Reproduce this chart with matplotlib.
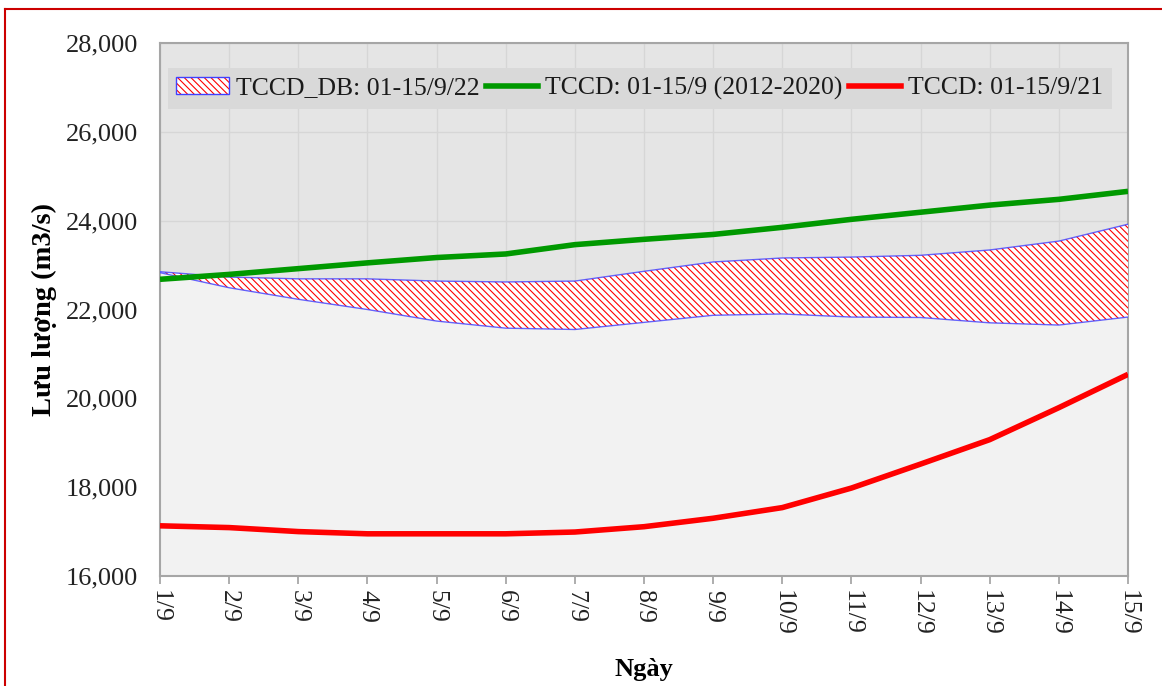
import matplotlib
matplotlib.use('Agg')
import matplotlib.pyplot as plt
from matplotlib.lines import Line2D
from matplotlib.patches import Patch
from matplotlib.ticker import FuncFormatter

plt.rcParams['font.family'] = ['Liberation Serif', 'DejaVu Serif']
plt.rcParams['hatch.color'] = 'red'
plt.rcParams['hatch.linewidth'] = 0.8

days = ['1/9', '2/9', '3/9', '4/9', '5/9', '6/9', '7/9', '8/9',
        '9/9', '10/9', '11/9', '12/9', '13/9', '14/9', '15/9']

# TCCD_DB 01-15/9/22 forecast band (upper / lower bound), m3/s
db_upper = [22850, 22730, 22690, 22690, 22640, 22620, 22640, 22860,
            23070, 23160, 23180, 23220, 23340, 23540, 23920]
db_lower = [22830, 22490, 22230, 22000, 21740, 21580, 21550, 21710,
            21870, 21900, 21830, 21820, 21700, 21650, 21830]
# TCCD average 01-15/9 (2012-2020)
avg_2012_2020 = [22680, 22790, 22920, 23050, 23170, 23250, 23460, 23580,
                 23690, 23850, 24030, 24190, 24350, 24480, 24660]
# TCCD 01-15/9/21
tccd_21 = [17130, 17090, 17000, 16950, 16950, 16950, 16990, 17110,
           17300, 17540, 17980, 18520, 19070, 19790, 20540]

x = list(range(len(days)))
HATCH = '\\' * 5

fig = plt.figure(figsize=(11.62, 6.86), dpi=100)
ax = fig.add_axes([160 / 1162, 1 - 576 / 686, 968 / 1162, 533 / 686])
ax.set_facecolor('#E5E5E5')

# stacked-area look: light fill under the band, hatched band on top
ax.fill_between(x, 16000, db_lower, facecolor='#F2F2F2', edgecolor='none', zorder=2)
ax.fill_between(x, db_lower, db_upper, facecolor='white', edgecolor='red',
                hatch=HATCH, linewidth=0, zorder=3)
ax.plot(x, db_upper, color='#4040FF', linewidth=1.0, alpha=0.8, zorder=4)
ax.plot(x, db_lower, color='#4040FF', linewidth=1.0, alpha=0.8, zorder=4)
ax.plot(x, avg_2012_2020, color='#009900', linewidth=4.0, zorder=5,
        solid_capstyle='butt')
ax.plot(x, tccd_21, color='#FF0000', linewidth=4.0, zorder=5,
        solid_capstyle='butt')

ax.set_xlim(0, len(days) - 1)
ax.set_ylim(16000, 28000)
ax.set_xticks(x)
ax.set_xticklabels(days, rotation=270, fontsize=18.5, color='#222222')
ax.set_yticks(range(16000, 28001, 2000))
ax.yaxis.set_major_formatter(FuncFormatter(lambda v, p: f'{int(v):,}'))
ax.tick_params(axis='y', length=0, pad=16, labelsize=19, labelcolor='#222222')
ax.tick_params(axis='x', length=6, width=1.2, color='#A0A0A0', pad=4)
ax.grid(True, color='#D6D6D6', linewidth=1.0, zorder=1)
ax.set_axisbelow(True)
for side in ax.spines.values():
    side.set_color('#A6A6A6')
    side.set_linewidth(1.5)

ax.set_ylabel('Lưu lượng (m3/s)', fontsize=20.5, fontweight='bold', labelpad=6)
ax.set_xlabel('Ngày', fontsize=19, fontweight='bold', labelpad=16)

band_handle = (Patch(facecolor='white', edgecolor='red', hatch=HATCH, linewidth=0),
               Patch(facecolor='none', edgecolor='#4040FF', linewidth=1.0))
handles = [band_handle,
           Line2D([], [], color='#009900', linewidth=4.0),
           Line2D([], [], color='#FF0000', linewidth=4.0)]
labels = ['TCCD_DB: 01-15/9/22', 'TCCD: 01-15/9 (2012-2020)', 'TCCD: 01-15/9/21']
leg = ax.legend(handles, labels, ncol=3, loc='upper left',
                bbox_to_anchor=(0.008, 0.953), fontsize=18.5,
                handlelength=2.05, handleheight=0.65, handletextpad=0.27,
                columnspacing=0.23, borderpad=0.34, borderaxespad=0.0,
                frameon=True, fancybox=False, facecolor='#D9D9D9',
                edgecolor='none', framealpha=1.0)
for t in leg.get_texts():
    t.set_color('#1A1A1A')

# red frame of the original figure (cut at right and bottom)
fig.add_artist(Line2D([5 / 1162, 5 / 1162], [0, 1 - 9 / 686],
                      transform=fig.transFigure, color='#CC0000', linewidth=1.5))
fig.add_artist(Line2D([5 / 1162, 1], [1 - 9 / 686, 1 - 9 / 686],
                      transform=fig.transFigure, color='#CC0000', linewidth=1.5))

fig.savefig('out.png', dpi=100)
